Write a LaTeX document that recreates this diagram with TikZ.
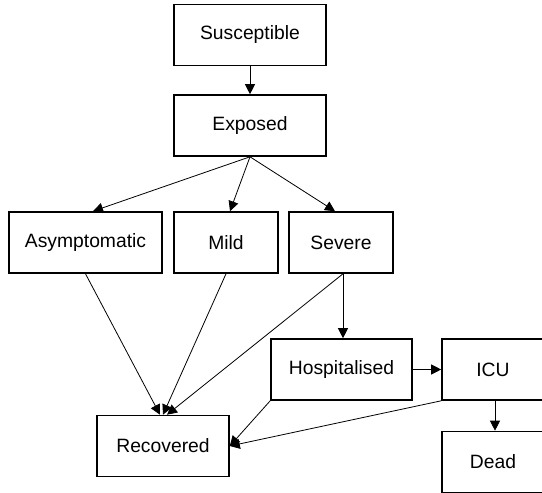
\documentclass[tikz,border=0pt]{standalone}
\usepackage{fontspec}
\setmainfont{Liberation Sans}
\usetikzlibrary{arrows.meta}

\begin{document}
\begin{tikzpicture}[
  x=1pt, y=-1pt,
  every node/.style={font=\fontsize{19.3}{23}\selectfont},
  state/.style={draw, line width=1.6pt, minimum height=61pt, inner sep=0pt},
  flow/.style={draw, line width=0.8pt, -{Triangle[length=10pt,width=10pt]}}
]
\useasboundingbox (0,0) rectangle (542,493);
\clip (0,0) rectangle (542,493);

\node[state, minimum width=152pt] (sus) at (250,35) {Susceptible};
\node[state, minimum width=152pt] (exp) at (250,125.5) {Exposed};
\node[state, minimum width=153pt] (asy) at (85.5,242.5) {Asymptomatic};
\node[state, minimum width=104pt] (mild) at (226,242.5) {Mild};
\node[state, minimum width=104pt] (sev) at (341,242.5) {Severe};
\node[state, minimum width=141pt] (hosp) at (341.5,369.5) {Hospitalised};
\node[state, minimum width=102pt] (icu) at (493,369.5) {ICU};
\node[state, minimum width=132pt] (rec) at (163,446) {Recovered};
\node[state, minimum width=102pt] (dead) at (493,462) {Dead};

\draw[flow] (sus) -- (exp);
\draw[flow] (exp.south) -- ([xshift=7.5pt]asy.north);
\draw[flow] (exp.south) -- ([xshift=4pt]mild.north);
\draw[flow] (exp.south) -- ([xshift=-6pt]sev.north);
\draw[flow] (asy.south) -- ([xshift=-3pt]rec.north);
\draw[flow] (mild.south) -- (rec.north);
\draw[flow] ([xshift=2pt]sev.south) -- ([xshift=4pt]rec.north);
\draw[flow] ([xshift=2pt]sev.south) -- ([xshift=2pt]sev.south |- hosp.north);
\draw[flow] (hosp.south west) -- (rec.east);
\draw[flow] (hosp) -- (icu);
\draw[flow] (icu.south west) -- (rec.east);
\draw[flow] ([xshift=2pt]icu.south) -- ([xshift=2pt]dead.north);
\end{tikzpicture}
\end{document}
